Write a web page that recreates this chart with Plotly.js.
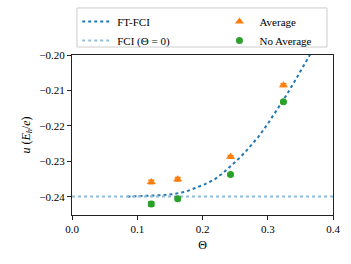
<!DOCTYPE html>
<html>
<head>
<meta charset="utf-8">
<script src="https://cdn.plot.ly/plotly-3.0.1.min.js"></script>
<style>html,body{margin:0;padding:0;background:#fff;}#chart{width:351px;height:264px;}</style>
</head>
<body>
<div id="chart"></div>
<script>
// FT-FCI curve
const ftTheta = [0.085, 0.10, 0.12, 0.14, 0.155, 0.173, 0.189, 0.204, 0.219, 0.232, 0.245, 0.258, 0.269, 0.286, 0.300, 0.314, 0.328, 0.341, 0.354, 0.366];
const ftU = [-0.2399, -0.2398, -0.2397, -0.2395, -0.2392, -0.2386, -0.2375, -0.2364, -0.2350, -0.2332, -0.2310, -0.2288, -0.2266, -0.2230, -0.2194, -0.2155, -0.2115, -0.2075, -0.2035, -0.1995];
// FCI ground state (Theta = 0)
const fciTheta = [0.0, 0.4];
const fciU = [-0.2399, -0.2399];
// QMC points
const qmcTheta = [0.1215, 0.162, 0.243, 0.324];
const avgU = [-0.2358, -0.2350, -0.2287, -0.2085];
const avgErr = [0.0005, 0.0005, 0.0004, 0.0004];
const noAvgU = [-0.2420, -0.2405, -0.2337, -0.2132];
const noAvgErr = [0.0006, 0.0004, 0.0003, 0.0003];

const xTicks = [0.0, 0.1, 0.2, 0.3, 0.4];
const yTicks = [-0.24, -0.23, -0.22, -0.21, -0.20];

const C0 = '#1f77b4', C0light = '#8fbcdb', C1 = '#ff7f0e', C2 = '#2ca02c';
const FONT = 'Liberation Serif';

const traces = [
  {x: ftTheta, y: ftU, mode: 'lines', name: 'FT-FCI', legend: 'legend',
   line: {color: C0, width: 2, dash: 'dot'}},
  {x: fciTheta, y: fciU, mode: 'lines', name: 'FCI (Θ = 0)', legend: 'legend',
   line: {color: C0light, width: 2, dash: 'dot'}},
  {x: qmcTheta, y: avgU, mode: 'markers', name: 'Average', legend: 'legend2',
   marker: {color: C1, symbol: 'triangle-up', size: 8},
   error_y: {type: 'data', array: avgErr, color: C1, thickness: 1.5, width: 3}},
  {x: qmcTheta, y: noAvgU, mode: 'markers', name: 'No Average', legend: 'legend2',
   marker: {color: C2, symbol: 'circle', size: 7},
   error_y: {type: 'data', array: noAvgErr, color: C2, thickness: 1.5, width: 3}}
];

const legFont = {family: FONT, size: 11, color: '#000'};
const layout = {
  width: 351, height: 264,
  margin: {l: 72, r: 18, t: 55, b: 49, autoexpand: false},
  paper_bgcolor: '#fff', plot_bgcolor: '#fff',
  font: {family: FONT, size: 11, color: '#000'},
  showlegend: true,
  legend: {
    x: 0.02, y: 1.30, xanchor: 'left', yanchor: 'top',
    bgcolor: 'rgba(0,0,0,0)', borderwidth: 0,
    font: legFont, tracegroupgap: 0, itemwidth: 30
  },
  legend2: {
    x: 0.565, y: 1.30, xanchor: 'left', yanchor: 'top',
    bgcolor: 'rgba(0,0,0,0)', borderwidth: 0,
    font: legFont, tracegroupgap: 0, itemwidth: 30
  },
  shapes: [{
    type: 'rect', xref: 'paper', yref: 'paper', layer: 'above',
    x0: 0.019, x1: 0.977, y0: 1.05, y1: 1.294,
    line: {color: '#cccccc', width: 1}, fillcolor: 'rgba(0,0,0,0)'
  }],
  xaxis: {
    range: [0, 0.4], tickvals: xTicks, tickformat: '.1f',
    showgrid: false, zeroline: false,
    showline: true, linecolor: '#222', linewidth: 1, mirror: true,
    ticks: 'outside', ticklen: 4, tickcolor: '#222',
    tickfont: {family: FONT, size: 11},
    title: {text: 'Θ', font: {family: FONT, size: 12}, standoff: 6}
  },
  yaxis: {
    range: [-0.2451, -0.20], tickvals: yTicks, tickformat: '.2f',
    showgrid: false, zeroline: false,
    showline: true, linecolor: '#222', linewidth: 1, mirror: true,
    ticks: 'outside', ticklen: 4, tickcolor: '#222',
    tickfont: {family: FONT, size: 11},
    title: {text: '<i>u</i> (<i>E<sub>h</sub></i>/<i>e</i>)', font: {family: FONT, size: 12}, standoff: 6}
  }
};

Plotly.newPlot('chart', traces, layout, {displayModeBar: false, staticPlot: true});
</script>
</body>
</html>
